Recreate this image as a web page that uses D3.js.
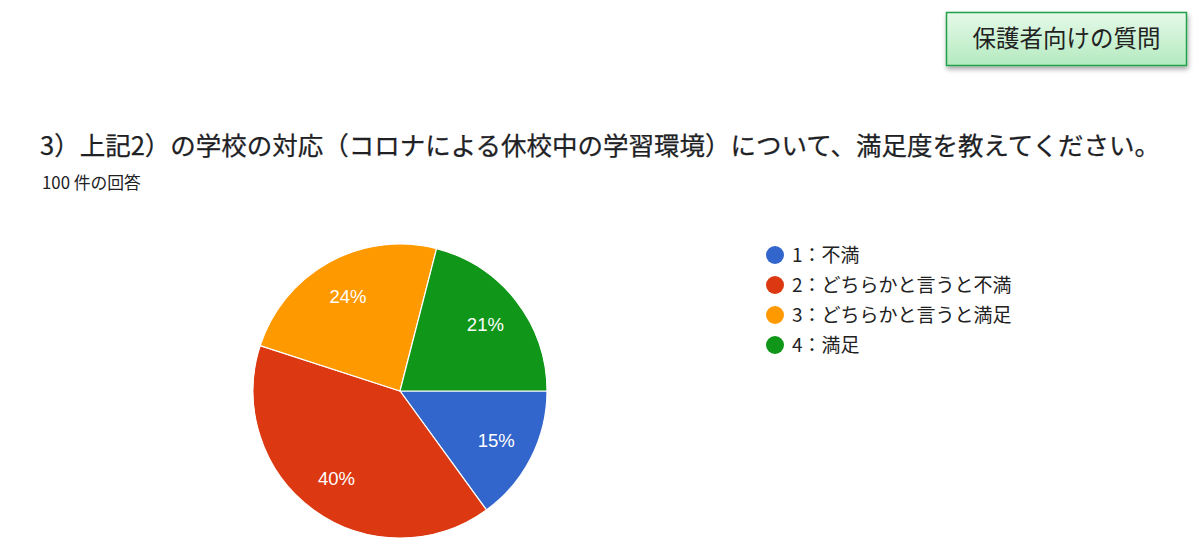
<!DOCTYPE html>
<html><head><meta charset="utf-8">
<script src="https://cdn.jsdelivr.net/npm/d3@7"></script>
<style>html,body{margin:0;padding:0;background:#fff;}svg{display:block;}</style>
</head><body>
<svg id="c" width="1200" height="546"></svg>
<script>
const categories = ["1：不満","2：どちらかと言うと不満","3：どちらかと言うと満足","4：満足"];
const values = [15, 40, 24, 21];
const colors = ["#3366cc","#dc3912","#ff9900","#109618"];
const titleText = "3）上記2）の学校の対応（コロナによる休校中の学習環境）について、満足度を教えてください。";
const subtitleText = "100 件の回答";
const badgeText = "保護者向けの質問";

const svg = d3.select("#c");
const font = "'Noto Sans CJK JP','Noto Sans',Roboto,sans-serif";

// badge
const defs = svg.append("defs");
const g = defs.append("linearGradient").attr("id","bg").attr("x1",0).attr("y1",0).attr("x2",0).attr("y2",1);
g.append("stop").attr("offset","0%").attr("stop-color","#e6f9e9");
g.append("stop").attr("offset","100%").attr("stop-color","#b3eabf");
const f = defs.append("filter").attr("id","sh").attr("x","-10%").attr("y","-20%").attr("width","130%").attr("height","160%");
f.append("feDropShadow").attr("dx",1).attr("dy",3).attr("stdDeviation",2.5).attr("flood-color","#000").attr("flood-opacity",0.35);
svg.append("rect").attr("x",946.5).attr("y",12.5).attr("width",240).attr("height",53)
  .attr("fill","url(#bg)").attr("stroke","#20a048").attr("stroke-width",1.5).attr("filter","url(#sh)");
svg.append("text").attr("x",1066.5).attr("y",47).attr("text-anchor","middle")
  .attr("font-family",font).attr("font-size",23.5).attr("fill","#222").text(badgeText);

// title
svg.append("text").attr("x",40).attr("y",155).attr("font-family",font).attr("font-size",25.5)
  .attr("fill","#202124").attr("stroke","#202124").attr("stroke-width",0.25).text(titleText);
svg.append("text").attr("x",42).attr("y",189).attr("font-family",font).attr("font-size",16.8)
  .attr("fill","#202124").text(subtitleText);

// pie
const cx = 400, cy = 391, R = 147;
const pie = d3.pie().sort(null).value(d=>d).startAngle(Math.PI/2).endAngle(Math.PI/2 + 2*Math.PI);
const arcs = pie(values);
const arc = d3.arc().innerRadius(0).outerRadius(R);
const labelArc = d3.arc().innerRadius(R*0.735).outerRadius(R*0.735);
const pg = svg.append("g").attr("transform",`translate(${cx},${cy})`);
pg.selectAll("path").data(arcs).join("path").attr("d",arc)
  .attr("fill",(d,i)=>colors[i]).attr("stroke","#fff").attr("stroke-width",1.2);
const total = d3.sum(values);
pg.selectAll("text").data(arcs).join("text")
  .attr("transform",d=>`translate(${labelArc.centroid(d)})`)
  .attr("text-anchor","middle").attr("dy","0.36em")
  .attr("font-family","'Liberation Sans',Arial,sans-serif").attr("font-size",18.5)
  .attr("fill","#fff").text(d=>Math.round(d.value/total*100)+"%");

// legend
const ly = d3.scalePoint().domain(categories).range([255,345]);
const lg = svg.append("g");
lg.selectAll("circle").data(categories).join("circle")
  .attr("cx",775).attr("cy",d=>ly(d)).attr("r",9).attr("fill",(d,i)=>colors[i]);
lg.selectAll("text").data(categories).join("text")
  .attr("x",792).attr("y",d=>ly(d)).attr("dy","0.36em")
  .attr("font-family",font).attr("font-size",19).attr("fill","#222").text(d=>d);
</script>
</body></html>
